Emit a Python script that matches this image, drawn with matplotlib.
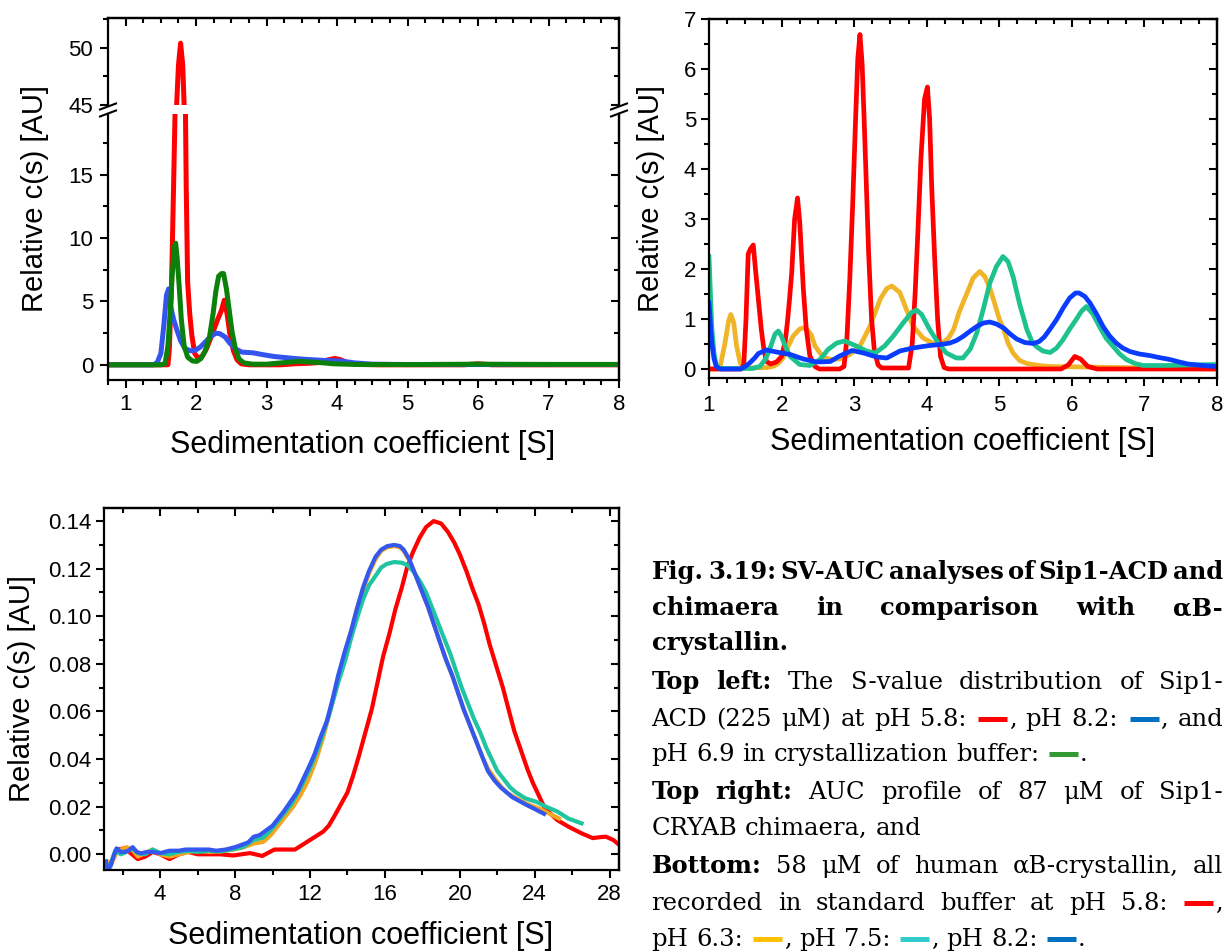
import re
import matplotlib
matplotlib.use("Agg")
import matplotlib.pyplot as plt
from matplotlib.lines import Line2D
from matplotlib.ticker import MultipleLocator, FormatStrFormatter

# ---------------------------------------------------------------- data
# Top left: Sip1-ACD (225 uM)
acd_red_s = [0.75, 1.50, 1.60, 1.62, 1.65, 1.68, 1.70, 1.72, 1.75, 1.78, 1.81, 1.83, 1.85, 1.86,
             1.88, 1.91, 1.94, 1.98, 2.03, 2.09, 2.15, 2.22, 2.30, 2.36, 2.40, 2.44, 2.48, 2.53,
             2.58, 2.64, 2.75, 3.20, 3.40, 3.60, 3.75, 3.88, 3.97, 4.05, 4.15, 4.30, 4.60, 5.80,
             6.00, 6.20, 8.00]
acd_red_c = [0, 0, 0, 1.2, 6.0, 14.0, 19.5, 44.5, 48.5, 50.4, 48.5, 45.0, 19.5, 14.0,
             6.5, 4.0, 2.3, 0.9, 0.5, 0.7, 1.3, 2.3, 3.5, 4.3, 5.1, 4.0, 2.4, 1.1,
             0.4, 0.08, 0.0, 0.0, 0.08, 0.12, 0.18, 0.4, 0.5, 0.4, 0.15, 0.03, 0.0, 0.0,
             0.08, 0.0, 0.0]

acd_blue_s = [0.75, 1.40, 1.45, 1.50, 1.54, 1.58, 1.61, 1.64, 1.68, 1.73, 1.78, 1.84, 1.92, 1.99,
              2.06, 2.13, 2.20, 2.28, 2.34, 2.41, 2.48, 2.56, 2.65, 2.80, 2.95, 3.10, 3.30, 3.50,
              3.80, 4.05, 4.25, 4.50, 5.00, 8.00]
acd_blue_c = [0, 0, 0.2, 0.9, 3.0, 5.5, 6.0, 4.6, 3.6, 2.7, 1.9, 1.3, 1.1, 1.15,
              1.4, 1.8, 2.2, 2.5, 2.45, 2.2, 1.7, 1.25, 1.0, 0.95, 0.8, 0.66, 0.55, 0.45,
              0.35, 0.3, 0.15, 0.05, 0.02, 0.02]

acd_green_s = [0.75, 1.50, 1.56, 1.60, 1.63, 1.66, 1.69, 1.71, 1.73, 1.76, 1.79, 1.83, 1.88, 1.95,
               2.01, 2.07, 2.13, 2.19, 2.24, 2.28, 2.32, 2.36, 2.39, 2.43, 2.47, 2.51, 2.56, 2.61,
               2.68, 2.80, 3.00, 3.20, 3.45, 3.70, 3.95, 4.30, 5.00, 6.00, 7.00, 8.00]
acd_green_c = [0, 0, 0.1, 1.5, 4.0, 7.0, 9.3, 9.6, 8.5, 6.2, 3.6, 1.5, 0.6, 0.3,
               0.27, 0.5, 1.1, 2.2, 4.0, 5.8, 7.0, 7.2, 7.2, 6.0, 4.3, 2.6, 1.2, 0.45,
               0.15, 0.05, 0.05, 0.15, 0.27, 0.2, 0.08, 0.02, 0.02, 0.05, 0.03, 0.03]

# Top right: Sip1-CRYAB chimaera (87 uM)
chi_red_s = [1.00, 1.45, 1.48, 1.51, 1.54, 1.57, 1.61, 1.64, 1.68, 1.72, 1.75, 1.79, 1.85, 1.93,
             2.00, 2.05, 2.08, 2.11, 2.14, 2.18, 2.22, 2.25, 2.30, 2.34, 2.39, 2.46, 2.52, 2.80,
             2.86, 2.90, 2.94, 2.98, 3.02, 3.05, 3.08, 3.11, 3.14, 3.17, 3.20, 3.24, 3.28, 3.33,
             3.38, 3.75, 3.80, 3.84, 3.88, 3.92, 3.97, 4.01, 4.04, 4.07, 4.11, 4.15, 4.19, 4.24,
             4.30, 5.85, 5.95, 6.04, 6.12, 6.22, 6.35, 8.00]
chi_red_c = [0, 0, 0.1, 1.0, 2.3, 2.4, 2.48, 2.0, 1.4, 0.8, 0.46, 0.15, 0.1, 0.14,
             0.25, 0.55, 0.93, 1.4, 1.93, 3.0, 3.42, 2.94, 1.6, 0.8, 0.26, 0.05, 0.0, 0.0,
             0.05, 0.6, 1.8, 3.3, 5.0, 6.2, 6.69, 6.1, 4.9, 3.6, 2.3, 1.0, 0.35, 0.08,
             0.02, 0.02, 0.5, 1.5, 2.8, 4.2, 5.4, 5.64, 5.0, 3.6, 2.2, 1.0, 0.25, 0.03,
             0.0, 0.0, 0.08, 0.25, 0.2, 0.05, 0.0, 0.0]

chi_yellow_s = [1.00, 1.10, 1.15, 1.22, 1.27, 1.30, 1.34, 1.38, 1.43, 1.50, 1.80, 1.90, 1.96, 2.02,
                2.09, 2.16, 2.25, 2.33, 2.41, 2.46, 2.57, 2.68, 2.80, 2.94, 3.08, 3.22, 3.36, 3.45,
                3.52, 3.63, 3.72, 3.81, 3.95, 4.09, 4.20, 4.30, 4.37, 4.45, 4.55, 4.64, 4.73, 4.80,
                4.87, 4.92, 5.00, 5.06, 5.12, 5.19, 5.28, 5.38, 5.55, 5.70, 6.20, 6.60, 7.20, 8.00]
chi_yellow_c = [0, 0, 0.02, 0.52, 0.96, 1.09, 0.93, 0.46, 0.12, 0.02, 0.03, 0.06, 0.12, 0.22,
                0.45, 0.66, 0.8, 0.83, 0.68, 0.46, 0.24, 0.19, 0.2, 0.29, 0.46, 0.86, 1.4, 1.61,
                1.66, 1.53, 1.19, 0.86, 0.62, 0.51, 0.5, 0.62, 0.79, 1.15, 1.5, 1.82, 1.95, 1.85,
                1.62, 1.39, 1.0, 0.79, 0.52, 0.32, 0.17, 0.11, 0.07, 0.05, 0.04, 0.03, 0.02, 0.0]

chi_teal_s = [1.00, 1.02, 1.04, 1.07, 1.10, 1.15, 1.60, 1.70, 1.78, 1.85, 1.91, 1.955, 2.00, 2.06,
              2.12, 2.25, 2.39, 2.53, 2.64, 2.76, 2.87, 3.03, 3.17, 3.29, 3.42, 3.54, 3.68, 3.79,
              3.86, 3.93, 4.04, 4.16, 4.27, 4.41, 4.50, 4.60, 4.69, 4.78, 4.87, 4.96, 5.05, 5.12,
              5.19, 5.28, 5.38, 5.45, 5.51, 5.60, 5.70, 5.79, 5.88, 5.97, 6.06, 6.13, 6.20, 6.29,
              6.38, 6.47, 6.57, 6.66, 6.75, 6.87, 6.98, 7.30, 7.60, 8.00]
chi_teal_c = [2.25, 1.5, 0.8, 0.3, 0.08, 0.01, 0.01, 0.05, 0.2, 0.45, 0.7, 0.76, 0.65, 0.42,
              0.25, 0.09, 0.07, 0.19, 0.39, 0.52, 0.56, 0.46, 0.36, 0.32, 0.46, 0.66, 0.93, 1.13,
              1.18, 1.09, 0.79, 0.52, 0.32, 0.22, 0.22, 0.4, 0.72, 1.2, 1.72, 2.05, 2.25, 2.15,
              1.85, 1.3, 0.79, 0.55, 0.45, 0.36, 0.33, 0.42, 0.59, 0.8, 0.99, 1.15, 1.25, 1.1,
              0.85, 0.62, 0.45, 0.3, 0.19, 0.11, 0.07, 0.07, 0.08, 0.09]

chi_blue_s = [1.00, 1.02, 1.04, 1.07, 1.10, 1.15, 1.43, 1.50, 1.56, 1.63, 1.68, 1.79, 1.93, 2.12,
              2.30, 2.48, 2.67, 2.80, 2.97, 3.13, 3.31, 3.45, 3.63, 3.81, 4.04, 4.20, 4.32, 4.41,
              4.50, 4.60, 4.69, 4.78, 4.87, 4.96, 5.06, 5.15, 5.24, 5.35, 5.47, 5.55, 5.62, 5.70,
              5.79, 5.88, 5.97, 6.05, 6.10, 6.18, 6.25, 6.34, 6.43, 6.52, 6.61, 6.70, 6.80, 6.93,
              7.07, 7.20, 7.35, 7.48, 7.60, 7.80, 8.00]
chi_blue_c = [1.32, 0.9, 0.5, 0.2, 0.05, 0.0, 0.0, 0.05, 0.12, 0.22, 0.31, 0.38, 0.34, 0.29,
              0.2, 0.14, 0.15, 0.26, 0.37, 0.32, 0.24, 0.22, 0.36, 0.42, 0.47, 0.49, 0.52, 0.57,
              0.65, 0.76, 0.85, 0.92, 0.94, 0.9, 0.82, 0.7, 0.6, 0.53, 0.51, 0.55, 0.64, 0.8,
              0.99, 1.22, 1.42, 1.52, 1.52, 1.45, 1.32, 1.1, 0.85, 0.66, 0.52, 0.42, 0.35, 0.3,
              0.27, 0.23, 0.19, 0.14, 0.1, 0.07, 0.05]

# Bottom: human alphaB-crystallin (58 uM)
ab_red_s = [1.3, 1.5, 1.7, 2.1, 2.5, 2.8, 3.2, 3.6, 4.0, 4.5, 5.0, 5.5, 6.0, 6.6, 7.2, 7.9, 8.8,
            9.45, 10.1, 10.7, 11.2, 11.6, 12.0, 12.4, 12.7, 13.0, 13.3, 13.65, 14.0, 14.3, 14.6,
            14.95, 15.3, 15.6, 15.9, 16.25, 16.56, 16.9, 17.2, 17.5, 17.85, 18.2, 18.6, 19.0,
            19.36, 19.7, 20.0, 20.35, 20.66, 21.0, 21.3, 21.6, 21.95, 22.3, 22.6, 22.9, 23.25,
            23.6, 23.9, 24.2, 24.5, 24.85, 25.2, 25.8, 26.5, 26.8, 27.1, 27.5, 27.8, 28.2, 28.5]
ab_red_c = [-0.004, -0.002, 0.002, 0.0025, 0.0, -0.002, -0.001, 0.001, 0.0, -0.002, 0.0, 0.001,
            0.0, 0.0, 0.0, -0.0005, 0.0005, -0.0007, 0.002, 0.002, 0.002, 0.004, 0.006, 0.008,
            0.0095, 0.012, 0.016, 0.021, 0.026, 0.033, 0.041, 0.051, 0.061, 0.072, 0.083, 0.093,
            0.103, 0.112, 0.121, 0.127, 0.133, 0.1375, 0.140, 0.139, 0.1355, 0.131, 0.126, 0.119,
            0.112, 0.105, 0.097, 0.088, 0.079, 0.070, 0.061, 0.052, 0.044, 0.036, 0.030, 0.025,
            0.020, 0.017, 0.0144, 0.0116, 0.0088, 0.0078, 0.0068, 0.0072, 0.0074, 0.006, 0.004]

ab_yellow_s = [1.2, 1.4, 1.6, 1.9, 2.2, 2.5, 2.8, 3.2, 3.6, 4.0, 4.5, 5.0, 5.5, 6.0, 6.6, 7.2,
               7.8, 8.4, 9.0, 9.5, 9.9, 10.3, 10.7, 11.1, 11.5, 11.9, 12.3, 12.7, 13.1, 13.5,
               13.85, 14.2, 14.5, 14.83, 15.15, 15.5, 15.8, 16.13, 16.5, 16.8, 17.0, 17.3, 17.6,
               17.95, 18.3, 18.6, 18.9, 19.25, 19.6, 19.9, 20.2, 20.55, 20.9, 21.2, 21.5, 21.85,
               22.2, 22.5, 22.8, 23.15, 23.5, 23.8, 24.3, 24.8, 25.3]
ab_yellow_c = [-0.003, -0.004, 0.0, 0.002, 0.003, 0.002, -0.001, 0.0005, 0.002, 0.0, -0.001,
               0.0, 0.001, 0.0015, 0.001, 0.0012, 0.0018, 0.0028, 0.0045, 0.0052, 0.008, 0.012,
               0.016, 0.020, 0.025, 0.031, 0.039, 0.049, 0.061, 0.073, 0.084, 0.094, 0.103, 0.111,
               0.118, 0.124, 0.1275, 0.129, 0.1295, 0.129, 0.1275, 0.1235, 0.118, 0.111, 0.104,
               0.097, 0.090, 0.082, 0.075, 0.068, 0.061, 0.054, 0.047, 0.041, 0.036, 0.032, 0.0285,
               0.026, 0.0245, 0.023, 0.0215, 0.0205, 0.019, 0.017, 0.015]

ab_teal_s = [1.1, 1.2, 1.4, 1.6, 1.9, 2.2, 2.5, 2.8, 3.2, 3.6, 4.0, 4.5, 5.0, 5.5, 6.0, 6.6,
             7.2, 7.8, 8.4, 9.0, 9.5, 10.0, 10.5, 11.0, 11.5, 12.0, 12.5, 13.0, 13.5, 13.9, 14.2,
             14.5, 14.83, 15.15, 15.5, 15.8, 16.1, 16.5, 16.9, 17.2, 17.5, 17.85, 18.2, 18.5, 18.8,
             19.15, 19.5, 19.8, 20.1, 20.45, 20.75, 21.1, 21.4, 21.7, 22.0, 22.4, 22.7, 23.0, 23.5,
             24.1, 24.6, 25.2, 25.8, 26.5]
ab_teal_c = [-0.004, -0.006, -0.003, 0.0015, 0.0, 0.001, 0.0025, 0.0005, 0.0, 0.002, 0.0005,
             0.0, 0.001, 0.0015, 0.001, 0.0015, 0.0012, 0.002, 0.003, 0.006, 0.007, 0.011, 0.016,
             0.021, 0.028, 0.036, 0.046, 0.058, 0.072, 0.082, 0.091, 0.099, 0.107, 0.113, 0.117,
             0.1205, 0.122, 0.1228, 0.1225, 0.1215, 0.119, 0.115, 0.110, 0.104, 0.098, 0.091,
             0.084, 0.077, 0.070, 0.063, 0.057, 0.051, 0.045, 0.040, 0.035, 0.031, 0.028, 0.026,
             0.0235, 0.022, 0.020, 0.018, 0.015, 0.013]

ab_blue_s = [1.1, 1.2, 1.35, 1.5, 1.67, 1.9, 2.1, 2.3, 2.53, 2.75, 2.96, 3.3, 3.6, 4.0, 4.5,
             5.0, 5.35, 6.0, 6.6, 7.0, 7.5, 8.0, 8.36, 8.7, 9.0, 9.3, 9.65, 10.0, 10.3, 10.6,
             10.95, 11.3, 11.6, 11.9, 12.24, 12.55, 12.9, 13.2, 13.5, 13.85, 14.2, 14.5, 14.83,
             15.15, 15.5, 15.8, 16.13, 16.5, 16.8, 17.0, 17.3, 17.6, 17.95, 18.3, 18.6, 18.9,
             19.25, 19.6, 19.9, 20.2, 20.55, 20.9, 21.2, 21.5, 21.85, 22.2, 22.5, 22.8, 23.15,
             23.5, 23.8, 24.1, 24.5]
ab_blue_c = [-0.003, -0.0066, -0.005, -0.001, 0.0025, 0.001, 0.001, 0.0015, 0.003, 0.001,
             0.0004, 0.001, 0.001, 0.0005, 0.0015, 0.0015, 0.002, 0.002, 0.002, 0.0015, 0.002,
             0.003, 0.004, 0.005, 0.0074, 0.008, 0.010, 0.012, 0.015, 0.018, 0.022, 0.026, 0.031,
             0.036, 0.042, 0.049, 0.056, 0.065, 0.075, 0.085, 0.094, 0.103, 0.112, 0.119, 0.125,
             0.128, 0.1295, 0.130, 0.1295, 0.128, 0.124, 0.118, 0.111, 0.104, 0.097, 0.090, 0.082,
             0.075, 0.068, 0.061, 0.054, 0.047, 0.041, 0.035, 0.031, 0.028, 0.026, 0.024, 0.0225,
             0.021, 0.0198, 0.0186, 0.017]

XLABEL = "Sedimentation coefficient [S]"
YLABEL = "Relative c(s) [AU]"

# Figure caption; "*" marks a bold word, {#rrggbb} a coloured line key.
caption_lines = [
    (579, True, "*Fig. *3.19: *SV-AUC *analyses *of *Sip1-ACD *and"),
    (615, True, "*chimaera *in *comparison *with *αB-"),
    (650, False, "*crystallin."),
    (689, True, "*Top *left: The S-value distribution of Sip1-"),
    (726, True, "ACD (225 μM) at pH 5.8: {#ff0000}, pH 8.2: {#0070c0}, and"),
    (761, False, "pH 6.9 in crystallization buffer: {#339933}."),
    (799, True, "*Top *right: AUC profile of 87 μM of Sip1-"),
    (835, False, "CRYAB chimaera, and"),
    (873, True, "*Bottom: 58 μM of human αB-crystallin, all"),
    (910, True, "recorded in standard buffer at pH 5.8: {#ff0000},"),
    (946, False, "pH 6.3: {#ffc000}, pH 7.5: {#33cccc}, pH 8.2: {#0070c0}."),
]

# ---------------------------------------------------------------- layout helpers
W, H, DPI = 1223, 951, 100
plt.rcParams['font.family'] = ['Liberation Sans', 'DejaVu Sans']

fig = plt.figure(figsize=(W / DPI, H / DPI), dpi=DPI)


def rect(left, top, right, bottom):
    return [left / W, 1 - bottom / H, (right - left) / W, (bottom - top) / H]


def fx(x):
    return x / W


def fy(y):
    return 1 - y / H


TICK_FS = 16
YLAB_FS = 21
XLAB_FS = 22
SPINE_W = 1.6
TICK_W = 1.5
MAJ_LEN = 5.8
MIN_LEN = 3.6


def setup_ticks(obj, axis, direction, **kw):
    obj.tick_params(axis=axis, which='both', direction=direction, width=TICK_W, **kw)
    obj.tick_params(axis=axis, which='major', length=MAJ_LEN)
    obj.tick_params(axis=axis, which='minor', length=MIN_LEN)


def frame(ax, xmaj, xmin, ymaj, ymin, xpad, ypad, top=True, bottom=True):
    """Outward ticks on left/bottom, inward ticks on the mirrored top/right axes."""
    for sp in ax.spines.values():
        sp.set_linewidth(SPINE_W)
    ax.xaxis.set_major_locator(MultipleLocator(xmaj))
    ax.xaxis.set_minor_locator(MultipleLocator(xmin))
    ax.yaxis.set_major_locator(MultipleLocator(ymaj))
    ax.yaxis.set_minor_locator(MultipleLocator(ymin))
    setup_ticks(ax, 'x', 'out', top=False, bottom=bottom, labelbottom=bottom,
                labelsize=TICK_FS, pad=xpad)
    setup_ticks(ax, 'y', 'out', right=False, labelsize=TICK_FS, pad=ypad)
    if top:
        sx = ax.secondary_xaxis('top')
        sx.xaxis.set_major_locator(MultipleLocator(xmaj))
        sx.xaxis.set_minor_locator(MultipleLocator(xmin))
        setup_ticks(sx, 'x', 'in', labeltop=False)
        sx.spines['top'].set_linewidth(SPINE_W)
    sy = ax.secondary_yaxis('right')
    sy.yaxis.set_major_locator(MultipleLocator(ymaj))
    sy.yaxis.set_minor_locator(MultipleLocator(ymin))
    setup_ticks(sy, 'y', 'in', labelright=False)
    sy.spines['right'].set_linewidth(SPINE_W)


# ---------------------------------------------------------------- top left (broken y axis)
ax_lo = fig.add_axes(rect(108, 114, 619, 380))
ax_up = fig.add_axes(rect(108, 18, 619, 105), sharex=ax_lo)
for ax in (ax_lo, ax_up):
    ax.plot(acd_red_s, acd_red_c, color='#ff0000', lw=3.6, solid_joinstyle='round')
    ax.plot(acd_blue_s, acd_blue_c, color='#3355ee', lw=3.6, solid_joinstyle='round')
    ax.plot(acd_green_s, acd_green_c, color='#0b800b', lw=3.6, solid_joinstyle='round')

ax_lo.set_xlim(0.75, 8.0)
ax_lo.set_ylim(-1.2, 19.8)
ax_up.set_ylim(45, 52.6)
ax_lo.spines['top'].set_visible(False)
ax_up.spines['bottom'].set_visible(False)
frame(ax_lo, 1, 0.25, 5, 2.5, 4, 5, top=False)
frame(ax_up, 1, 0.25, 5, 2.5, 4, 5, top=True, bottom=False)

# "//" break marks on both spines
for xs in (108, 619):
    for yb in (106.5, 113.5):
        fig.add_artist(Line2D([fx(xs - 8), fx(xs + 8)], [fy(yb + 3), fy(yb - 3)],
                              color='black', lw=1.5, transform=fig.transFigure))

fig.text(fx(35), fy(199), YLABEL, rotation=90, ha='center', va='center', fontsize=YLAB_FS)
fig.text(fx(363), fy(453), XLABEL, ha='center', va='baseline', fontsize=XLAB_FS)

# ---------------------------------------------------------------- top right
ax_tr = fig.add_axes(rect(709, 19, 1217, 378))
ax_tr.plot(chi_yellow_s, chi_yellow_c, color='#f0b428', lw=3.4, solid_joinstyle='round')
ax_tr.plot(chi_red_s, chi_red_c, color='#ff0000', lw=3.4, solid_joinstyle='round')
ax_tr.plot(chi_teal_s, chi_teal_c, color='#1dc28e', lw=3.4, solid_joinstyle='round')
ax_tr.plot(chi_blue_s, chi_blue_c, color='#0a3cff', lw=3.4, solid_joinstyle='round')
ax_tr.set_xlim(1, 8)
ax_tr.set_ylim(-0.18, 7)
frame(ax_tr, 1, 0.25, 1, 0.5, 6.5, 3.6)
fig.text(fx(651), fy(198), YLABEL, rotation=90, ha='center', va='center', fontsize=YLAB_FS)
fig.text(fx(963), fy(450), XLABEL, ha='center', va='baseline', fontsize=XLAB_FS)

# ---------------------------------------------------------------- bottom
ax_b = fig.add_axes(rect(104, 508, 619, 870))
ax_b.plot(ab_red_s, ab_red_c, color='#ff0000', lw=3.0, solid_joinstyle='round')
ax_b.plot(ab_yellow_s, ab_yellow_c, color='#f5a51e', lw=3.0, solid_joinstyle='round')
ax_b.plot(ab_teal_s, ab_teal_c, color='#1fc4a0', lw=3.0, solid_joinstyle='round')
ax_b.plot(ab_blue_s, ab_blue_c, color='#3458ee', lw=3.0, solid_joinstyle='round')
ax_b.set_xlim(1.0, 28.5)
ax_b.set_ylim(-0.0066, 0.1455)
frame(ax_b, 4, 2, 0.02, 0.01, 4.5, 3)
ax_b.yaxis.set_major_formatter(FormatStrFormatter('%.2f'))
fig.text(fx(22), fy(689), YLABEL, rotation=90, ha='center', va='center', fontsize=YLAB_FS)
fig.text(fx(361), fy(944), XLABEL, ha='center', va='baseline', fontsize=XLAB_FS)

# ---------------------------------------------------------------- caption (block-justified)
CAP_FONT = ['DejaVu Serif']
CAP_FS = 17.5
CAP_LEFT, CAP_RIGHT = 651.6, 1223.0
KEY_W, KEY_GAP = 29.0, 2.0
renderer = fig.canvas.get_renderer()


def parse_token(tok):
    bold = tok.startswith('*')
    tok = tok.lstrip('*')
    parts = []
    for piece in re.split(r'(\{#[0-9a-fA-F]{6}\})', tok):
        if not piece:
            continue
        if piece.startswith('{'):
            parts.append(('key', piece[1:-1]))
        else:
            parts.append(('text', piece))
    return bold, parts


def measure(text, bold):
    t = fig.text(0, 0, text, fontsize=CAP_FS, family=CAP_FONT,
                 fontweight='bold' if bold else 'normal')
    w = t.get_window_extent(renderer).width
    t.remove()
    return w


def token_width(bold, parts):
    w = 0.0
    for kind, val in parts:
        w += (KEY_W + 2 * KEY_GAP) if kind == 'key' else measure(val, bold)
    return w


space_w = measure('a a', False) - measure('aa', False)
for base, justify, line in caption_lines:
    tokens = [parse_token(t) for t in line.split(' ')]
    widths = [token_width(b, p) for b, p in tokens]
    gap = space_w
    if justify and len(tokens) > 1:
        gap = max((CAP_RIGHT - CAP_LEFT - sum(widths)) / (len(tokens) - 1), 3.0)
    x = CAP_LEFT
    for (bold, parts), w in zip(tokens, widths):
        cx = x
        for kind, val in parts:
            if kind == 'key':
                fig.add_artist(Line2D([fx(cx + KEY_GAP), fx(cx + KEY_GAP + KEY_W)],
                                      [fy(base - 7), fy(base - 7)], color=val, lw=3.6,
                                      solid_capstyle='butt', transform=fig.transFigure))
                cx += KEY_W + 2 * KEY_GAP
            else:
                fig.text(fx(cx), fy(base), val, ha='left', va='baseline', fontsize=CAP_FS,
                         family=CAP_FONT, fontweight='bold' if bold else 'normal',
                         color='black')
                cx += measure(val, bold)
        x += w + gap

fig.savefig('out.png', dpi=DPI)
